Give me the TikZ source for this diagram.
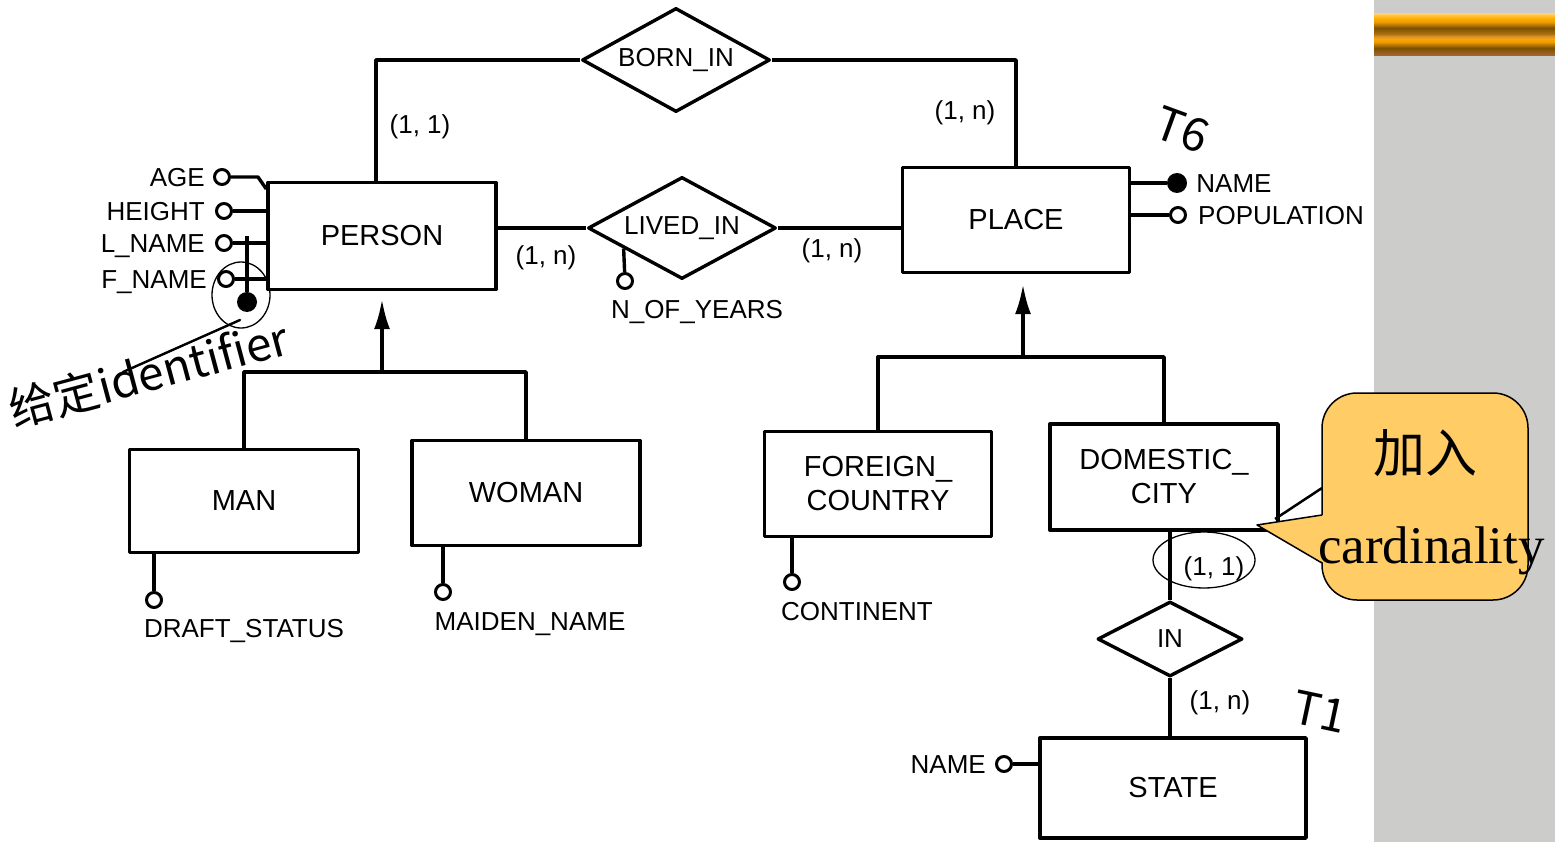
\documentclass[tikz,border=0pt]{standalone}
\usepackage{fontspec}
\setmainfont{Liberation Sans}
\newfontfamily\cjk{Noto Sans CJK SC}
\newfontfamily\rmserif{Liberation Serif}
\usetikzlibrary{shapes.geometric,arrows.meta}

\definecolor{slidegray}{HTML}{CCCCCA}
\definecolor{notefill}{HTML}{FFCC66}
\definecolor{barA}{HTML}{9A6A40}
\definecolor{barB}{HTML}{9A6020}
\definecolor{barC}{HTML}{7A5000}
\definecolor{barD}{HTML}{EE9A00}
\definecolor{barE}{HTML}{FFA500}
\definecolor{barF}{HTML}{D09030}
\definecolor{barG}{HTML}{B07010}
\definecolor{barH}{HTML}{FFB000}
\definecolor{barI}{HTML}{FFCC66}

% striped golden bar of the slide frame
\pgfdeclareverticalshading{titlebar}{100bp}{color(0bp)=(barA); color(25bp)=(barA);
  color(28.6bp)=(barB); color(34.5bp)=(barC); color(41.7bp)=(barD); color(45.2bp)=(barE);
  color(48.8bp)=(barF); color(51.2bp)=(barG); color(58.3bp)=(barC); color(65.5bp)=(barD);
  color(70.2bp)=(barH); color(75bp)=(barI); color(100bp)=(barI)}

\begin{document}
\begin{tikzpicture}[x=1pt,y=-1pt,line join=round,
  ent/.style={draw,line width=3.4pt,inner sep=0pt,align=center,font=\fontsize{29}{34}\selectfont},
  rel/.style={diamond,draw,line width=3.4pt,inner sep=0pt,shape aspect=1.85,font=\fontsize{26}{30}\selectfont},
  lbl/.style={inner sep=0pt,text height=19pt,text depth=0pt,font=\fontsize{26}{30}\selectfont},
  att/.style={circle,draw,fill=white,line width=3pt,inner sep=0pt,minimum size=15pt},
  keyatt/.style={circle,fill=black,inner sep=0pt,minimum size=20pt},
  conn/.style={line width=3.4pt},
  isa/.style={conn,-{Latex[length=30pt,width=16pt]}},
  hand/.style={line width=1.3pt},
  handtext/.style={inner sep=0pt,font=\cjk\fontsize{46}{46}\selectfont},
]
\useasboundingbox (0,0) rectangle (1555,842);
\fill[white] (0,0) rectangle (1374,842);
\fill[slidegray] (1374,0) rectangle (1555,842);
\shade[shading=titlebar] (1374,14) rectangle (1555,56);

% ---------- entities ----------
\node[ent,minimum width=228pt,minimum height=107pt] (person) at (382,236) {PERSON};
\node[ent,minimum width=227pt,minimum height=105pt] (place) at (1016,220) {PLACE};
\node[ent,minimum width=229pt,minimum height=103pt] (man) at (244,501) {MAN};
\node[ent,minimum width=228pt,minimum height=105pt] (woman) at (526,493) {WOMAN};
\node[ent,minimum width=227pt,minimum height=105pt] (foreign) at (878,484) {FOREIGN\_\\COUNTRY};
\node[ent,minimum width=228pt,minimum height=106pt] (domestic) at (1164,477) {DOMESTIC\_\\CITY};
\node[ent,minimum width=266pt,minimum height=100pt] (state) at (1173,788) {STATE};

% ---------- relationships ----------
\node[rel,minimum width=188pt,minimum height=104pt] (born) at (676,60) {BORN\_IN};
\node[rel,minimum width=188pt,minimum height=102pt] (lived) at (682,228) {LIVED\_IN};
\node[rel,minimum width=145pt,minimum height=75pt] (in) at (1170,639) {IN};

% ---------- relationship links and cardinalities ----------
\draw[conn] (born.west) -| ([xshift=-6pt]person.north);
\draw[conn] (born.east) -| (place.north);
\draw[conn] (lived.west) -- (lived.west -| person.east);
\draw[conn] (lived.east) -- (lived.east -| place.west);
\draw[conn] (in.north) -- (in.north |- domestic.south);
\draw[conn] (in.south) -- (in.south |- state.north);

\node[lbl] (c1) at (420,124) {(1, 1)};
\node[lbl] (c2) at (965,110) {(1, n)};
\node[lbl] (c3) at (546,255) {(1, n)};
\node[lbl] (c4) at (832,248) {(1, n)};
\node[lbl] (c5) at (1214,566) {(1, 1)};
\node[lbl] (c6) at (1220,700) {(1, n)};

% ---------- PERSON attributes ----------
\node[att] (age) at (222,177) {};
\node[att] (height) at (224,211) {};
\node[att] (lname) at (224,243) {};
\node[att] (fname) at (226,279) {};
\coordinate (idtop) at (247,236);
\node[keyatt] (pid) at (247,302) {};
\draw[conn] (age) -- (258,177) -- (person.west |- 0,189);
\draw[conn] (height) -- (height -| person.west);
\draw[conn] (lname) -- (lname -| person.west);
\draw[conn] (fname) -- (fname -| person.west);
\draw[conn] (pid) -- (idtop);
\node[lbl,anchor=east] at ([xshift=-8pt]age.west) {AGE};
\node[lbl,anchor=east] at ([xshift=-10pt]height.west) {HEIGHT};
\node[lbl,anchor=east] at ([xshift=-10pt]lname.west) {L\_NAME};
\node[lbl,anchor=east] at ([xshift=-10pt]fname.west) {F\_NAME};

% ---------- PLACE attributes ----------
\node[keyatt] (pname) at (1177,183) {};
\node[att] (popul) at (1178,215) {};
\draw[conn] (pname) -- (pname -| place.east);
\draw[conn] (popul) -- (popul -| place.east);
\node[lbl,anchor=west] at ([xshift=9pt]pname.east) {NAME};
\node[lbl,anchor=west] at ([xshift=11pt]popul.east) {POPULATION};

% ---------- other attributes ----------
\path (lived.west) -- (lived.south) coordinate[pos=0.39] (nytop);
\node[att] (nyears) at (625,281) {};
\draw[conn] (nyears) -- (nytop);
\node[lbl] at (697,309) {N\_OF\_YEARS};

\node[att] (draft) at (154,600) {};
\draw[conn] (draft) -- (draft |- man.south);
\node[lbl] at (244,628) {DRAFT\_STATUS};

\node[att] (maiden) at (443,592) {};
\draw[conn] (maiden) -- (maiden |- woman.south);
\node[lbl] at (530,621) {MAIDEN\_NAME};

\node[att] (cont) at (792,582) {};
\draw[conn] (cont) -- (cont |- foreign.south);
\node[lbl] at (857,611) {CONTINENT};

\node[att] (sname) at (1004,764) {};
\draw[conn] (sname) -- (sname -| state.west);
\node[lbl,anchor=east] at ([xshift=-9pt]sname.west) {NAME};

% ---------- generalizations ----------
\coordinate (pg) at (382,372);
\draw[isa,shorten >=8pt] (pg) -- (pg |- person.south);
\draw[conn] (man.north) -- (man.north |- pg) -- (woman.north |- pg) -- (woman.north);

\coordinate (plg) at (1023,357);
\draw[isa,shorten >=10pt] (plg) -- (plg |- place.south);
\draw[conn] (foreign.north) -- (foreign.north |- plg) -- (domestic.north |- plg) -- (domestic.north);

% ---------- handwritten notes ----------
\draw[hand] (241,295) ellipse [x radius=29, y radius=33];
\draw[line width=2.4pt,line cap=round] (240,320) -- (123,372);
\node[handtext,rotate=15,anchor=base west] at (14,428) {给定identifier};
\node[handtext,rotate=-20,font=\cjk\fontsize{46}{46}\selectfont] at (1182,130) {T6};
\node[handtext,rotate=-12,font=\cjk\fontsize{46}{46}\selectfont] at (1320,712) {T1};
\draw[hand] (1204,560) ellipse [x radius=51, y radius=28];

% ---------- callout ----------
\draw[line width=1.5pt,fill=notefill,rounded corners=35pt] (1322,393) rectangle (1528,600);
\fill[notefill] (1324,515) -- (1257,525) -- (1324,563) -- cycle;
\draw[line width=1.5pt] (1322,515) -- (1257,525) -- (1322,563);
\draw[line width=2.5pt] (1322,488) -- (1275,519);
\node[inner sep=0pt,font=\cjk\fontsize{52}{52}\selectfont] (jiaru) at (1425,453) {加入};
\node[inner sep=0pt,anchor=base west,font=\rmserif\fontsize{53}{53}\selectfont] (card) at (1318,563) {cardinality};
\end{tikzpicture}
\end{document}
